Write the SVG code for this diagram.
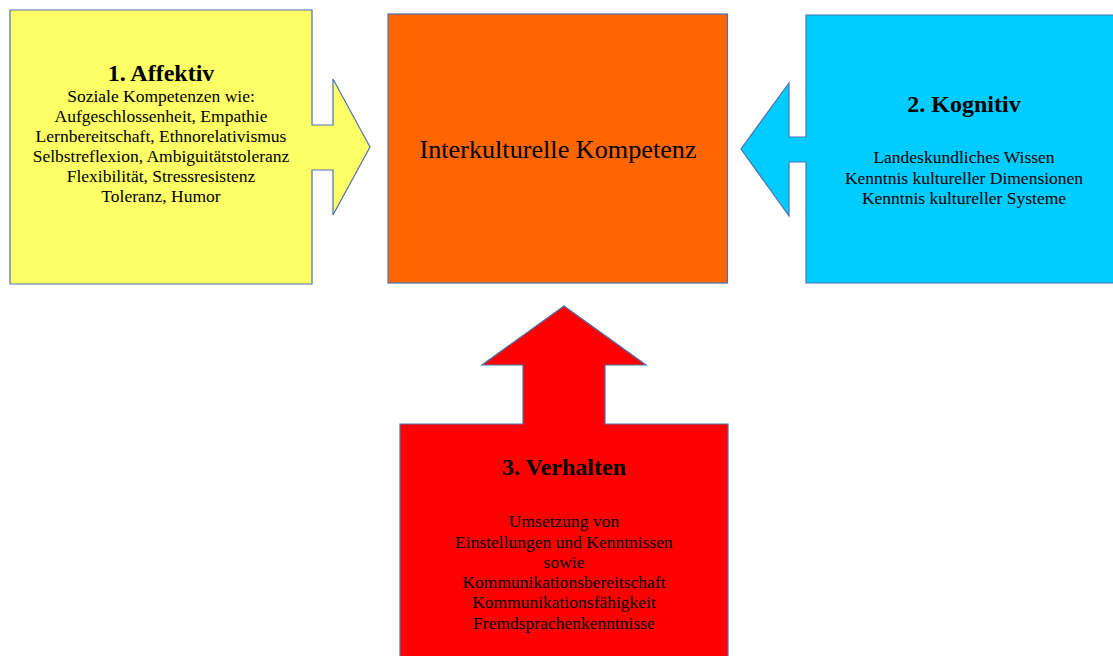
<svg xmlns="http://www.w3.org/2000/svg" width="1113" height="656" viewBox="0 0 1113 656">
<style>
.shape{stroke:#4a72b0;stroke-width:1.2;stroke-linejoin:miter}
text{font-family:"Liberation Serif","Times New Roman",serif;fill:#000;text-anchor:middle}
.t{font-size:24px;font-weight:bold}
.b{font-size:17.5px}
.c{font-size:26.2px}
</style>
<rect width="1113" height="656" fill="#fff"/>
<g id="affektiv">
<path class="shape" fill="#ffff66" d="M10,10 H312 V125 H333 V79 L370,147 L333,215 V170 H312 V284 H10 Z"/>
<text class="t" x="161" y="81">1. Affektiv</text>
<text class="b" x="161" y="102">Soziale Kompetenzen wie:</text>
<text class="b" x="161" y="122">Aufgeschlossenheit, Empathie</text>
<text class="b" x="161" y="142">Lernbereitschaft, Ethnorelativismus</text>
<text class="b" x="161" y="162">Selbstreflexion, Ambiguitätstoleranz</text>
<text class="b" x="161" y="182">Flexibilität, Stressresistenz</text>
<text class="b" x="161" y="202">Toleranz, Humor</text>
</g>
<g id="kompetenz">
<rect class="shape" fill="#ff6600" x="388" y="14" width="339.5" height="269"/>
<text class="c" x="558" y="158">Interkulturelle Kompetenz</text>
</g>
<g id="kognitiv">
<path class="shape" fill="#00ccff" d="M1114,15 H806 V137 H789 V83 L741,149 L789,216 V162 H806 V283 H1114"/>
<text class="t" x="964" y="112">2. Kognitiv</text>
<text class="b" x="964" y="163">Landeskundliches Wissen</text>
<text class="b" x="964" y="184">Kenntnis kultureller Dimensionen</text>
<text class="b" x="964" y="204">Kenntnis kultureller Systeme</text>
</g>
<g id="verhalten">
<path class="shape" fill="#ff0000" d="M400,657 V424 H523 V365 H482 L564,306 L646,365 H605 V424 H728 V657"/>
<text class="t" x="564" y="475">3. Verhalten</text>
<text class="b" x="564" y="527">Umsetzung von</text>
<text class="b" x="564" y="548">Einstellungen und Kenntnissen</text>
<text class="b" x="564" y="568">sowie</text>
<text class="b" x="564" y="588">Kommunikationsbereitschaft</text>
<text class="b" x="564" y="608">Kommunikationsfähigkeit</text>
<text class="b" x="564" y="629">Fremdsprachenkenntnisse</text>
</g>
<g id="connectors"/>
</svg>
